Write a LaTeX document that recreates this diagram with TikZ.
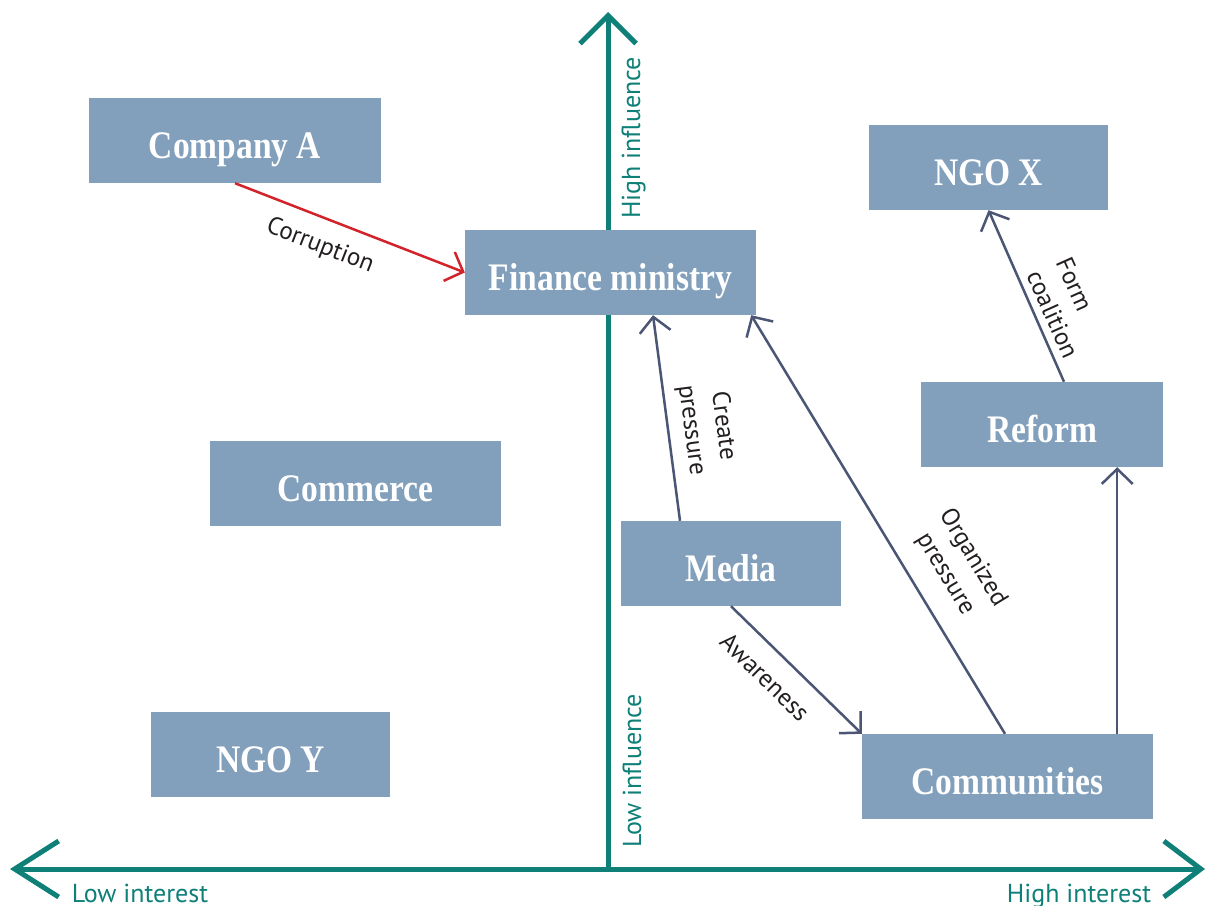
\documentclass[tikz,border=0pt]{standalone}
\usepackage{fontspec}
\setmainfont{Liberation Serif}
\newfontfamily\boxfont[FakeStretch=0.86]{Liberation Serif}
\newfontfamily\labelfont{PT Sans}
\usetikzlibrary{arrows.meta}

\definecolor{axisteal}{RGB}{14,128,120}
\definecolor{boxblue}{RGB}{130,160,188}
\definecolor{linkslate}{RGB}{75,86,117}
\definecolor{bribered}{RGB}{210,35,42}
\definecolor{inkblack}{RGB}{35,31,32}

\tikzset{
  actor/.style={fill=boxblue, draw=none, inner sep=0pt, minimum height=85pt,
    text=white, font=\boxfont\bfseries\fontsize{39}{39}\selectfont,
    text height=35pt, text depth=0pt},
  axisline/.style={draw=axisteal, line width=5pt},
  axislabel/.style={text=axisteal, inner sep=0pt, font=\labelfont\fontsize{26}{26}\selectfont},
  link/.style={draw=linkslate, line width=2.5pt,
    -{Straight Barb[length=15pt,width=31pt,line width=2.5pt]}},
  bribe/.style={link, draw=bribered},
  linklabel/.style={text=inkblack, inner sep=0pt, align=center,
    font=\labelfont\fontsize{25}{32}\selectfont}
}

\begin{document}
\begin{tikzpicture}[x=1pt, y=-1pt]
  \useasboundingbox (0,0) rectangle (1206,905);
  \fill[white] (0,0) rectangle (1206,905);

  % interest / influence axes
  \coordinate (origin) at (608,869);
  \coordinate (xleft) at (10,869);
  \coordinate (xright) at (1205,869);
  \coordinate (ytop) at (608,12);
  \draw[axisline, {Straight Barb[length=44pt,width=56pt,line width=5pt]}-{Straight Barb[length=37pt,width=56pt,line width=5pt]}]
    (xleft) -- (xright);
  \draw[axisline, -{Straight Barb[length=28pt,width=56pt,line width=5pt]}] (origin) -- (ytop);

  \node[axislabel, anchor=base] (lowint) at (140,902) {Low interest};
  \node[axislabel, anchor=base] (highint) at (1079,902) {High interest};
  \node[axislabel, anchor=base, rotate=90] (highinf) at (640,138) {High influence};
  \node[axislabel, anchor=base, rotate=90] (lowinf) at (641,771) {Low influence};

  % stakeholders
  \node[actor, minimum width=292pt] (compA) at (235,140.5) {Company A};
  \node[actor, minimum width=291pt] (finance) at (610.5,272.5) {Finance ministry};
  \node[actor, minimum width=239pt] (ngox) at (988.5,167.5) {NGO X};
  \node[actor, minimum width=242pt] (reform) at (1042,424.5) {Reform};
  \node[actor, minimum width=291pt] (commerce) at (355.5,483.5) {Commerce};
  \node[actor, minimum width=220pt] (media) at (731,563.5) {Media};
  \node[actor, minimum width=239pt] (ngoy) at (270.5,754.5) {NGO Y};
  \node[actor, minimum width=291pt] (comm) at (1007.5,776.5) {Communities};

  % relations
  \draw[bribe] (compA.south) -- (finance.west);
  \draw[link] ([xshift=-51pt]media.north) -- ([xshift=42.5pt]finance.south);
  \draw[link] ([xshift=-2.5pt]comm.north) -- ([xshift=-5pt]finance.south east);
  \draw[link] (media.south) -- (comm.north west);
  \draw[link] ([xshift=-36pt]comm.north east) -- ([xshift=-36pt]comm.north east |- reform.south);
  \draw[link] ([xshift=22pt]reform.north) -- (ngox.south);

  % relation labels
  \node[linklabel, rotate=-21.3] (lcorr) at (320,246) {Corruption};
  \node[linklabel, rotate=-82.5] (lcreate) at (707,428) {Create\\pressure};
  \node[linklabel, rotate=-58.8] (lorg) at (959,566) {Organized\\pressure};
  \node[linklabel, rotate=-44.3] (laware) at (765,677) {Awareness};
  \node[linklabel, rotate=-65.9, align=left] (lform) at (1067.5,308) {Form\\coalition};
\end{tikzpicture}
\end{document}
